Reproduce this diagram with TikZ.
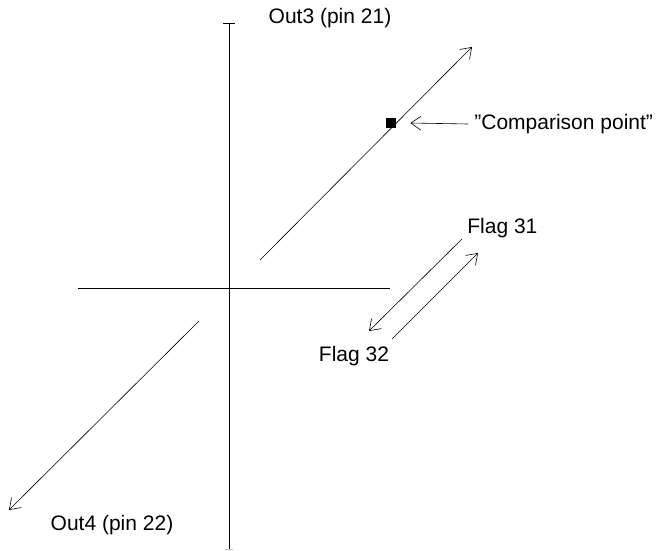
\documentclass[tikz,border=0pt]{standalone}
\usepackage{fontspec}
\setmainfont{Liberation Sans}
\usetikzlibrary{arrows.meta, positioning}

\begin{document}
\begin{tikzpicture}[
  x=0.5pt, y=-0.5pt,
  lbl/.style={font=\fontsize{10.5}{12}\selectfont, inner sep=0pt},
  axis/.style={line width=0.5pt},
  vec/.style={line width=0.3pt, -{Straight Barb[length=5pt, width=7pt, line width=0.3pt]}},
  tick/.style={line width=0.4pt},
]
\useasboundingbox (0,0) rectangle (659,551);

%% Axes
\coordinate (ytop) at (229,23);
\coordinate (ybot) at (229,549);
\coordinate (xl) at (78,288);
\coordinate (xr) at (390,288);
\draw[axis] (ytop) -- (ybot);
\draw[axis] (xl) -- (xr);
\draw[tick] ([xshift=-3pt]ytop) -- ([xshift=3pt]ytop);
\draw[tick, gray!50] ([xshift=-2pt]ybot) -- ([xshift=2pt]ybot);

%% Out3 / Out4
\coordinate (o3s) at (260,260);
\coordinate (o3e) at (472,47);
\coordinate (o4s) at (199,321);
\coordinate (o4e) at (9,510);
\draw[vec] (o3s) -- (o3e);
\draw[vec] (o4s) -- (o4e);
\node[lbl] (out3) at (330,18) {Out3 (pin 21)};
\node[lbl] (out4) at (112,525) {Out4 (pin 22)};

%% Comparison point
\node[fill=black, minimum size=5pt, inner sep=0pt] (cp) at (391,123) {};
\node[lbl, anchor=west] (cmp) at (474,124) {''Comparison point''};
\coordinate (cpe) at (468,124);
\draw[vec] (cpe) -- ([xshift=7pt]cp.east);

%% Flags
\coordinate (f1s) at (462,239);
\coordinate (f1e) at (369,331);
\coordinate (f2s) at (392,339);
\coordinate (f2e) at (478,253);
\draw[vec] (f1s) -- (f1e);
\draw[vec] (f2s) -- (f2e);
\node[lbl, anchor=west] (flag31) at (467,228) {Flag 31};
\node[lbl] (flag32) at (354,356) {Flag 32};

\end{tikzpicture}
\end{document}
